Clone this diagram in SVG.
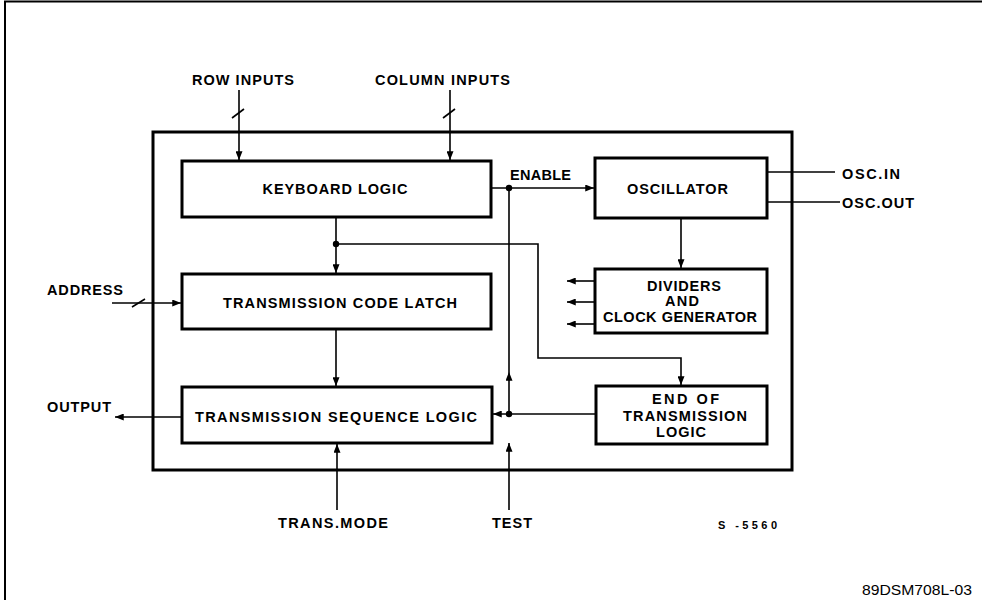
<svg xmlns="http://www.w3.org/2000/svg" width="982" height="600" viewBox="0 0 982 600">
<defs>
<marker id="arr" viewBox="0 0 10 8" refX="10" refY="4" markerWidth="9" markerHeight="7" markerUnits="userSpaceOnUse" orient="auto">
<path d="M0,0 L10,4 L0,8 z" fill="#000"/>
</marker>
<style>
.blk{fill:#fff;stroke:#000;stroke-width:3}
.frame{fill:none;stroke:#000;stroke-width:3}
.ln{fill:none;stroke:#000;stroke-width:1.6}
.a{marker-end:url(#arr)}
.t{font-family:"Liberation Sans",Arial,sans-serif;font-weight:bold;font-size:14.5px;fill:#000}
.bt{text-anchor:middle}
.s{font-family:"Liberation Sans",Arial,sans-serif;font-weight:bold;font-size:11px;fill:#000}
.ref{font-family:"Liberation Sans",Arial,sans-serif;font-size:14.5px;fill:#000}
</style>
</defs>
<rect width="982" height="600" fill="#fff"/>
<path d="M5,600 L5,1.5 L982,1.5" fill="none" stroke="#000" stroke-width="2"/>
<rect x="153" y="132" width="639" height="338" class="frame"/>

<g id="connectors">
<path class="ln a" d="M239,90 L239,160"/>
<path class="ln" d="M232,118 L244,109"/>
<path class="ln a" d="M450,90 L450,160"/>
<path class="ln" d="M443,118 L455,109"/>
<path class="ln a" d="M336,217 L336,273"/>
<path class="ln a" d="M336,244 L538,244 L538,358 L681,358 L681,385"/>
<circle cx="336" cy="244" r="3.2"/>
<path class="ln a" d="M491,188 L594,188"/>
<circle cx="509" cy="188" r="3.2"/>
<path class="ln" d="M509,414 L509,372 L509,188" style="marker-mid:url(#arr)"/>
<path class="ln a" d="M596,414 L493,414"/>
<circle cx="509" cy="414" r="3.2"/>
<path class="ln a" d="M336,329 L336,386"/>
<path class="ln a" d="M681,218 L681,268"/>
<path class="ln a" d="M595,281 L567,281"/>
<path class="ln a" d="M595,302 L567,302"/>
<path class="ln a" d="M595,324 L567,324"/>
<path class="ln" d="M766,172 L835,172"/>
<path class="ln" d="M766,202 L840,202"/>
<path class="ln a" d="M112,303 L181,303"/>
<path class="ln" d="M132,307 L145,299"/>
<path class="ln a" d="M182,417 L115,417"/>
<path class="ln a" d="M337,510 L337,444"/>
<path class="ln a" d="M509,510 L509,443"/>
</g>

<g id="keyboard-logic">
<rect x="182" y="161" width="309" height="56" class="blk"/>
<text class="t bt" x="335" y="194" textLength="145" lengthAdjust="spacing">KEYBOARD LOGIC</text>
</g>
<g id="transmission-code-latch">
<rect x="182" y="274" width="309" height="55" class="blk"/>
<text class="t bt" x="340" y="308" textLength="234" lengthAdjust="spacing">TRANSMISSION CODE LATCH</text>
</g>
<g id="transmission-sequence-logic">
<rect x="182" y="387" width="310" height="56" class="blk"/>
<text class="t bt" x="336" y="422" textLength="282" lengthAdjust="spacing">TRANSMISSION SEQUENCE LOGIC</text>
</g>
<g id="oscillator">
<rect x="595" y="158" width="172" height="60" class="blk"/>
<text class="t bt" x="677.5" y="194" textLength="101" lengthAdjust="spacing">OSCILLATOR</text>
</g>
<g id="dividers">
<rect x="595" y="269" width="172" height="64" class="blk"/>
<text class="t bt" x="684" y="291" textLength="74" lengthAdjust="spacing">DIVIDERS</text>
<text class="t bt" x="682" y="306" textLength="34" lengthAdjust="spacing">AND</text>
<text class="t bt" x="680" y="322" textLength="154" lengthAdjust="spacing">CLOCK GENERATOR</text>
</g>
<g id="end-of-transmission">
<rect x="596" y="386" width="171" height="58" class="blk"/>
<text class="t bt" x="685.5" y="404" textLength="67" lengthAdjust="spacing">END OF</text>
<text class="t bt" x="685" y="421" textLength="124" lengthAdjust="spacing">TRANSMISSION</text>
<text class="t bt" x="681" y="437" textLength="50" lengthAdjust="spacing">LOGIC</text>
</g>

<g id="labels">
<text class="t" x="192" y="85" textLength="102" lengthAdjust="spacing">ROW INPUTS</text>
<text class="t" x="375" y="85" textLength="135" lengthAdjust="spacing">COLUMN INPUTS</text>
<text class="t" x="510" y="180" textLength="61" lengthAdjust="spacing">ENABLE</text>
<text class="t" x="842" y="179" textLength="58" lengthAdjust="spacing">OSC.IN</text>
<text class="t" x="842" y="208" textLength="72" lengthAdjust="spacing">OSC.OUT</text>
<text class="t" x="47" y="295" textLength="76" lengthAdjust="spacing">ADDRESS</text>
<text class="t" x="47" y="412" textLength="64" lengthAdjust="spacing">OUTPUT</text>
<text class="t" x="278" y="528" textLength="110" lengthAdjust="spacing">TRANS.MODE</text>
<text class="t" x="492" y="528" textLength="40" lengthAdjust="spacing">TEST</text>
<text class="s" x="718" y="529" textLength="59" lengthAdjust="spacing">S -5560</text>
<text class="ref" x="862" y="595" textLength="110" lengthAdjust="spacingAndGlyphs">89DSM708L-03</text>
</g>
</svg>
